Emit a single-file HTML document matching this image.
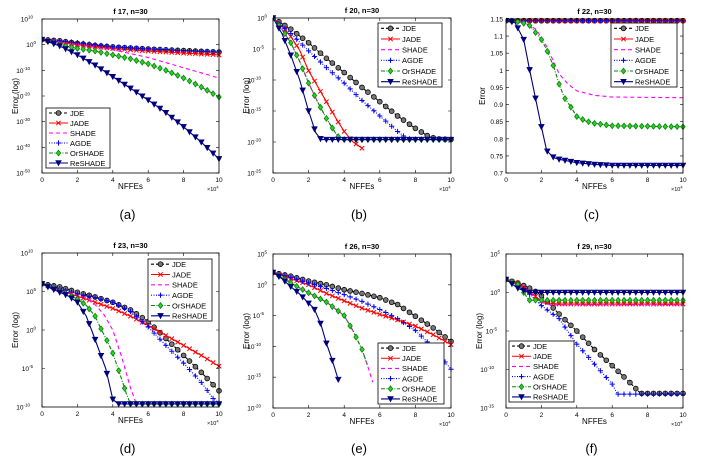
<!DOCTYPE html>
<html><head><meta charset="utf-8"><style>
html,body{margin:0;padding:0;background:#fff}
svg{display:block}
text{font-family:"Liberation Sans",sans-serif}
</style></head><body>
<svg id="fig" width="720" height="463" viewBox="0 0 720 463" xmlns="http://www.w3.org/2000/svg"></svg>
<script>
const seriesNames=["JDE","JADE","SHADE","AGDE","OrSHADE","ReSHADE"];
const xTicks=[0,2,4,6,8,10];
// Panel (a) f17 (log10 values)
const a_jde=[[0,2],[1,1.5],[2,0.5],[3,-0.3],[4,-0.9],[6,-1.7],[8,-2.3],[10,-2.9]];
const a_jade=[[0,2],[1,1],[2,0],[3,-0.8],[4,-1.5],[6,-2.5],[8,-3.3],[10,-4]];
const a_shade=[[0,2],[1,1],[2,0],[3,-1],[4,-2],[6,-5],[8,-9],[10,-13]];
const a_agde=[[0,2],[1,1.5],[2,0.8],[4,-0.8],[6,-1.6],[8,-2.3],[10,-2.8]];
const a_or=[[0,2],[1,0],[2,-1.5],[3,-2.5],[4,-4],[5,-5.5],[6,-7.5],[7,-10],[8,-13],[9,-16.5],[10,-20.4]];
const a_re=[[0,2],[1,-0.5],[2,-4],[3,-8],[4,-12.5],[5,-17],[6,-21.6],[7,-26.5],[8,-32],[9,-38],[10,-44.5]];
const a_yTicks=[10,0,-10,-20,-30,-40,-50];
// Panel (b) f20
const b_jde=[[0,0],[1,-1.8],[2,-4],[3,-6.5],[4,-8.8],[5,-11.2],[6,-13.5],[7,-15.8],[8,-17.8],[8.8,-19.2],[9.3,-19.5],[10,-19.6]];
const b_jade=[[0,0],[0.5,-1.3],[1,-3],[1.5,-5.2],[2,-8.5],[2.5,-11],[3,-13.5],[3.5,-16],[4,-18.3],[4.5,-20],[5,-21]];
const b_shade=[[0,0],[0.5,-1.8],[1,-4],[1.5,-7],[2,-10.5],[2.5,-13.5],[3,-16.2],[3.5,-18.5],[3.8,-19.6],[10,-19.6]];
const b_agde=[[0,0],[1,-2.5],[2,-5.3],[3,-8],[4,-10.5],[5,-13.3],[6,-15.8],[7,-18.3],[7.5,-19.4],[8,-19.6],[10,-19.6]];
const b_or=[[0,0],[0.5,-1.8],[1,-4],[1.5,-7],[2,-10.5],[2.5,-13.5],[3,-16.2],[3.5,-18.5],[3.8,-19.6],[10,-19.6]];
const b_re=[[0,0],[0.5,-2.5],[1,-6],[1.5,-10],[2,-15],[2.4,-18.5],[2.7,-19.6],[10,-19.6]];
const b_yTicks=[0,-5,-10,-15,-20,-25];
// Panel (c) f22 (linear)
const c_jde=[[0,1.145],[10,1.145]];
const c_jade=[[0,1.145],[10,1.145]];
const c_shade=[[0,1.145],[1,1.14],[1.7,1.12],[2.3,1.07],[3,0.99],[3.5,0.96],[4,0.94],[5,0.927],[6,0.922],[10,0.92]];
const c_agde=[[0,1.145],[10,1.145]];
const c_or=[[0,1.145],[0.7,1.142],[1.3,1.133],[2,1.09],[2.3,1.06],[2.7,1.01],[3,0.96],[3.3,0.92],[3.7,0.89],[4,0.865],[4.5,0.852],[5,0.845],[6,0.838],[10,0.835]];
const c_re=[[0,1.145],[0.5,1.14],[1,1.09],[1.3,1.01],[1.7,0.91],[2,0.835],[2.3,0.765],[2.7,0.745],[3,0.74],[4,0.73],[5,0.725],[6,0.722],[10,0.722]];
const c_yTicks=[0.7,0.75,0.8,0.85,0.9,0.95,1,1.05,1.1,1.15];
// Panel (d) f23
const d_jde=[[0,6],[1,5.6],[2,4.9],[3,4.3],[4,3.6],[5,2.6],[6,1.1],[7,-1.1],[8,-3.3],[9,-5.5],[10,-7.9]];
const d_jade=[[0,6],[1,5.2],[2,4.4],[3,3.6],[4,2.8],[5,1.8],[6,0.6],[7,-0.7],[8,-2],[9,-3.3],[10,-4.7]];
const d_shade=[[0,6],[1,5.3],[2,4.6],[2.5,4.2],[3,3.3],[3.5,2],[4,0],[4.5,-3.5],[5,-7.5],[5.3,-9.4]];
const d_agde=[[0,6],[1,5.4],[2,4.7],[3,4.2],[4,3.6],[5,2.4],[6,0.4],[7,-2],[8,-4.3],[9,-6.8],[9.7,-9],[10,-9.4]];
const d_or=[[0,6],[1,5.1],[1.5,4.6],[2,4],[2.5,3.2],[3,1.8],[3.3,0.3],[3.7,-1.5],[4,-3],[4.5,-6.4],[4.8,-8.5],[5,-9.6],[10,-9.6]];
const d_re=[[0,6],[0.5,5.4],[1,4.9],[1.5,4.4],[2,3.6],[2.5,1.8],[2.8,0],[3.2,-2.5],[3.6,-5],[4,-9],[4.3,-9.6],[10,-9.6]];
const d_yTicks=[10,5,0,-5,-10];
// Panel (e) f26
const e_jde=[[0,2],[1,1.4],[2,0.6],[3,0],[4,-0.8],[5,-1.4],[6,-2.1],[7,-3.2],[8,-5.1],[9,-7],[10,-9.2]];
const e_jade=[[0,2],[1,1],[2,0],[3,-1.4],[4,-2.6],[5,-3.8],[6,-4.8],[7,-5.7],[8,-6.7],[9,-8.1],[10,-9.7]];
const e_shade=[[0,2],[1,0.3],[2,-1.3],[3,-2.8],[4,-5],[4.5,-7.5],[5,-10.5],[5.3,-13],[5.6,-15.8]];
const e_agde=[[0,2],[1,1.2],[2,0.3],[3,-0.6],[4,-1.6],[5,-2.7],[6,-4],[7,-5.5],[8,-7.4],[9,-10.2],[10,-13.7]];
const e_or=[[0,2],[1,0.3],[2,-1.3],[3,-2.8],[4,-5],[4.5,-7.5],[5,-10.5],[5.3,-13]];
const e_re=[[0,2],[0.5,1],[1,-0.3],[1.5,-1.5],[2,-3],[2.3,-3.8],[2.7,-6.5],[3,-9.5],[3.3,-12],[3.7,-15.7]];
const e_yTicks=[5,0,-5,-10,-15,-20];
// Panel (f) f29
const f_jde=[[0,1.7],[0.7,1.2],[1,0.9],[1.5,0.4],[2,-0.4],[3,-2.8],[4,-5],[5,-7.4],[6,-9.5],[7,-11.7],[7.6,-13.1],[10,-13.1]];
const f_jade=[[0,1.7],[0.7,1.2],[1,0.7],[1.5,-0.2],[2,-1.1],[2.5,-1.4],[3,-1.5],[10,-1.5]];
const f_shade=[[0,1.7],[1,0.6],[2,-1.3],[2.5,-1.6],[10,-1.6]];
const f_agde=[[0,1.7],[1,0.5],[1.5,-0.6],[2,-1.7],[3,-3.4],[4,-6.7],[5,-9.3],[6,-11.9],[6.3,-13.2],[10,-13.2]];
const f_or=[[0,1.7],[0.7,1],[1.3,-1],[2,-1],[10,-1]];
const f_re=[[0,1.7],[0.7,0.5],[1.3,0],[10,0]];
const f_yTicks=[5,0,-5,-10,-15];

const NS="http://www.w3.org/2000/svg";
const svg=document.getElementById('fig');
function mk(tag,attrs,parent){const e=document.createElementNS(NS,tag);for(const k in attrs)e.setAttribute(k,attrs[k]);(parent||svg).appendChild(e);return e;}
const styles=[
 {c:"#000",dash:"3,2",m:"circle"},
 {c:"#f00",dash:"",m:"x"},
 {c:"#f0f",dash:"4,3",m:"none"},
 {c:"#00f",dash:"1,1.5",m:"plus"},
 {c:"#080",dash:"4,1.5,1,1.5",m:"diamond"},
 {c:"#00007f",dash:"",m:"tri"}];
function marker(g,m,x,y,c){
 if(m==="circle"){const e=mk('circle',{cx:x,cy:y,r:2.4,fill:"#777",stroke:c,'stroke-width':0.8},g);}
 else if(m==="x"){mk('path',{d:`M${x-2.2},${y-2.2}L${x+2.2},${y+2.2}M${x-2.2},${y+2.2}L${x+2.2},${y-2.2}`,stroke:c,'stroke-width':1},g);}
 else if(m==="plus"){mk('path',{d:`M${x-2.6},${y}L${x+2.6},${y}M${x},${y-2.6}L${x},${y+2.6}`,stroke:c,'stroke-width':1},g);}
 else if(m==="diamond"){mk('path',{d:`M${x},${y-2.8}L${x+2.2},${y}L${x},${y+2.8}L${x-2.2},${y}Z`,fill:"#3c3",stroke:c,'stroke-width':0.8},g);}
 else if(m==="tri"){mk('path',{d:`M${x-2.8},${y-2.4}L${x+2.8},${y-2.4}L${x},${y+2.8}Z`,fill:c,stroke:c,'stroke-width':0.6},g);}
}
function interp(d,x){for(let i=0;i<d.length-1;i++){if(x>=d[i][0]&&x<=d[i+1][0]){const t=(x-d[i][0])/(d[i+1][0]-d[i][0]||1);return d[i][1]+t*(d[i+1][1]-d[i][1]);}}return null;}
const panels=[
 {id:"a",title:"f 17, n=30",l:42,t:19,r:219,b:173,ymin:-50,ymax:10,log:true,yt:a_yTicks,data:[a_jde,a_jade,a_shade,a_agde,a_or,a_re],leg:[46,108,64,60],ylab:"Error (log)",ylx:18},
 {id:"b",title:"f 20, n=30",l:273,t:18,r:451,b:173,ymin:-25,ymax:0,log:true,yt:b_yTicks,data:[b_jde,b_jade,b_shade,b_agde,b_or,b_re],leg:[378,23,64,64],ylab:"Error (log)",ylx:249},
 {id:"c",title:"f 22, n=30",l:506,t:19,r:683,b:173,ymin:0.7,ymax:1.15,log:false,yt:c_yTicks,data:[c_jde,c_jade,c_shade,c_agde,c_or,c_re],leg:[611,23,66,64],ylab:"Error",ylx:485},
 {id:"d",title:"f 23, n=30",l:42,t:253,r:219,b:407,ymin:-10,ymax:10,log:true,yt:d_yTicks,data:[d_jde,d_jade,d_shade,d_agde,d_or,d_re],leg:[148,259,64,62],ylab:"Error (log)",ylx:18},
 {id:"e",title:"f 26, n=30",l:273,t:254,r:451,b:408,ymin:-20,ymax:5,log:true,yt:e_yTicks,data:[e_jde,e_jade,e_shade,e_agde,e_or,e_re],leg:[378,343,66,61],ylab:"Error (log)",ylx:249},
 {id:"f",title:"f 29, n=30",l:506,t:254,r:683,b:408,ymin:-15,ymax:5,log:true,yt:f_yTicks,data:[f_jde,f_jade,f_shade,f_agde,f_or,f_re],leg:[509,341,65,61],ylab:"Error (log)",ylx:482}
];
panels.forEach(p=>{
 const g=mk('g',{});
 
 
 const X=v=>p.l+(v-0)/10*(p.r-p.l);
 const Y=v=>p.b-(v-p.ymin)/(p.ymax-p.ymin)*(p.b-p.t);
 mk('rect',{x:p.l,y:p.t,width:p.r-p.l,height:p.b-p.t,fill:"#fff",stroke:"none"},g);
 // clip
 const cp=mk('clipPath',{id:'cp'+p.id},g);mk('rect',{x:p.l,y:p.t-3,width:p.r-p.l+3,height:p.b-p.t+6},cp);
 const plot=mk('g',{'clip-path':`url(#cp${p.id})`},g);
 p.data.forEach((d,si)=>{
  const s=styles[si];
  const sg=mk('g',{},plot);
  
  
  mk('polyline',{points:d.map(q=>X(q[0])+','+Y(q[1])).join(' '),fill:"none",stroke:s.c,'stroke-width':1.1,'stroke-dasharray':s.dash},sg);
  if(s.m!=="none"){const xe=d[d.length-1][0];for(let k=0;k<=30;k++){const xv=k/3;if(xv>xe+1e-6)break;const yv=interp(d,xv);if(yv!==null)marker(sg,s.m,X(xv),Y(yv),s.c);}}
 });
 mk('rect',{x:p.l,y:p.t,width:p.r-p.l,height:p.b-p.t,fill:"none",stroke:"#000",'stroke-width':0.8},g);
 // x ticks
 xTicks.forEach(v=>{const x=X(v);mk('path',{d:`M${x},${p.b}V${p.b-3}M${x},${p.t}V${p.t+3}`,stroke:"#000",'stroke-width':0.6},g);
  const t=mk('text',{x:x,y:p.b+9,'font-size':6.5,'text-anchor':'middle'},g);t.textContent=v;
  });
 p.yt.forEach(v=>{const y=Y(v);mk('path',{d:`M${p.l},${y}H${p.l+3}M${p.r},${y}H${p.r-3}`,stroke:"#000",'stroke-width':0.6},g);
  const t=mk('text',{x:p.l-3,y:y+2.5,'font-size':6.5,'text-anchor':'end'},g);
  
  if(p.log){t.setAttribute('x',p.l-3-(String(v).length*3));t.textContent='10';const sp=mk('tspan',{'font-size':4.5,dy:-3},t);sp.textContent=v;}
  else t.textContent=v;});
 const tt=mk('text',{x:(p.l+p.r)/2,y:p.t-5,'font-size':7.5,'font-weight':'bold','text-anchor':'middle'},g);tt.textContent=p.title;
 
 const xl=mk('text',{x:(p.l+p.r)/2,y:p.b+16,'font-size':8,'text-anchor':'middle'},g);xl.textContent="NFFEs";
 
 const xm=mk('text',{x:p.r-12,y:p.b+18,'font-size':5.5},g);xm.textContent="×10";const xs=mk('tspan',{'font-size':4,dy:-2.5},xm);xs.textContent="4";
 
 const cy=(p.t+p.b)/2;
 const yl=mk('text',{x:p.ylx,y:cy,'font-size':8,'text-anchor':'middle',transform:`rotate(-90 ${p.ylx} ${cy})`},g);yl.textContent=p.ylab;
 
 const cap=mk('text',{x:(p.l+p.r)/2-3,y:p.id<'d'?219:453,'font-size':13,'font-family':'Liberation Serif,serif','text-anchor':'middle'},g);
 cap.setAttribute('font-family','Liberation Serif, serif');cap.textContent='('+p.id+')';
 
 // legend
 const [lx,ly,lw,lh]=p.leg;const lg=mk('g',{},g);
 
 mk('rect',{x:lx,y:ly,width:lw,height:lh,fill:"#fff",stroke:"#000",'stroke-width':0.8},lg);
 const rh=lh/6;
 seriesNames.forEach((n,si)=>{const s=styles[si];const yy=ly+rh*(si+0.5);
  const eg=mk('g',{},lg);
  mk('line',{x1:lx+3,x2:lx+22,y1:yy,y2:yy,stroke:s.c,'stroke-width':1.1,'stroke-dasharray':s.dash},eg);
  if(s.m!=="none")marker(eg,s.m,lx+12.5,yy,s.c);
  const t=mk('text',{x:lx+24,y:yy+2.8,'font-size':7.5},eg);t.textContent=n;});
});
</script>
</body></html>
